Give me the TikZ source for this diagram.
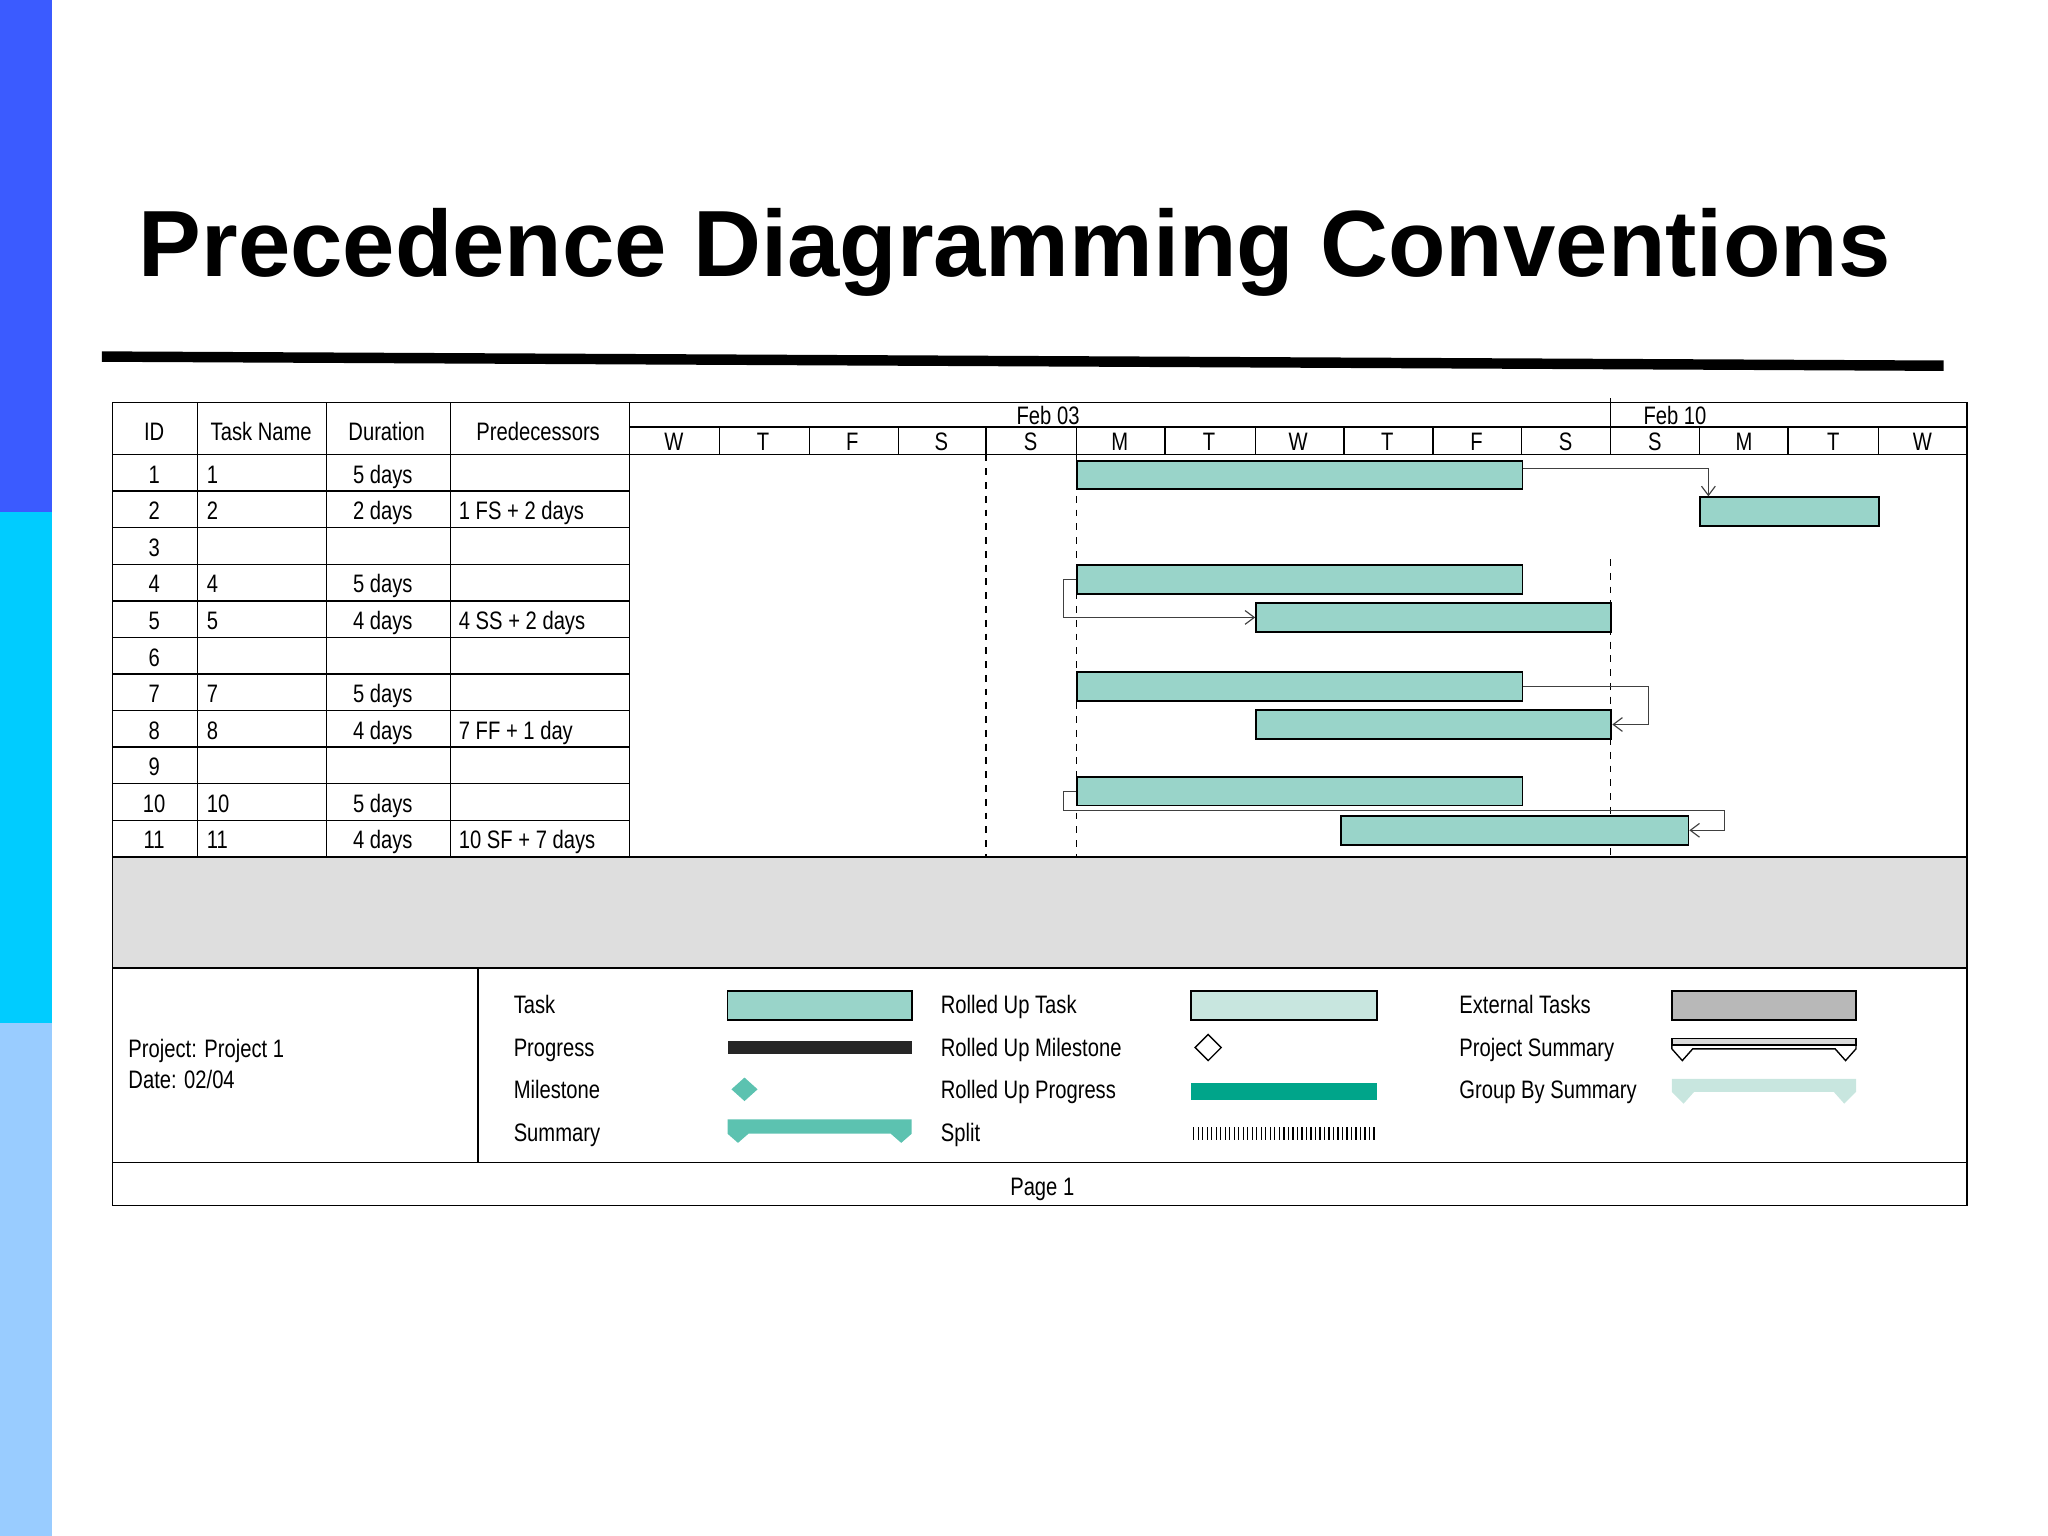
\documentclass[tikz,border=0pt]{standalone}
\usepackage{fontspec}
\setmainfont{Liberation Sans}
\newfontfamily\nar{Liberation Sans}[FakeStretch=0.8]
\usetikzlibrary{arrows.meta}
\definecolor{taskc}{HTML}{99D4C9}
\definecolor{rollc}{HTML}{C8E6DF}
\definecolor{sumc}{HTML}{5CC2B0}
\definecolor{rpc}{HTML}{00A58A}
\definecolor{extc}{HTML}{B8B8B8}
\definecolor{bandc}{HTML}{DEDEDE}
\definecolor{barA}{HTML}{3B5BFF}
\definecolor{barB}{HTML}{00CCFF}
\definecolor{barC}{HTML}{99CCFF}
\newcommand\U{0.02cm}
\tikzset{
 txt/.style={font=\nar\fontsize{11}{12}\selectfont, inner sep=0pt, anchor=base west},
 ctxt/.style={font=\nar\fontsize{11}{12}\selectfont, inner sep=0pt, anchor=base},
 bar/.style={draw, line width=0.8pt, fill=taskc, inner sep=0pt, minimum height=22*\U, anchor=north west},
 link/.style={draw=black!75, line width=0.5pt, -{Straight Barb[length=4pt,width=6pt]}},
 grid/.style={line width=0.6pt},
}
\begin{document}
\begin{tikzpicture}[x=\U, y=-\U]
\useasboundingbox (0,0) rectangle (1568,1176);
\fill[barA] (0,0) rectangle (40,392);
\fill[barB] (0,392) rectangle (40,783);
\fill[barC] (0,783) rectangle (40,1176);
\node[font=\bfseries\fontsize{41}{44}\selectfont, anchor=base west, inner sep=0pt] (title) at (106,212) {Precedence Diagramming Conventions};
\fill (78,269) -- (1488,276) -- (1488,284) -- (78,277) -- cycle;
% gray band
\fill[bandc] (86,656) rectangle (1506,741);
% table grid
\draw[grid] (86,308) rectangle (1506,923);
\draw[grid] (482,327) -- (1506,327);
\draw[grid] (86,348) -- (1506,348);
\foreach \y in {376,404,...,628} \draw[grid] (86,\y) -- (482,\y);
\draw[grid] (86,656) -- (1506,656);
\draw[grid] (86,741) -- (1506,741);
\draw[grid] (86,890) -- (1506,890);
\draw[grid] (366,741) -- (366,890);
\foreach \x in {151,250,345,482} \draw[grid] (\x,308) -- (\x,656);
\foreach \x in {551,620,688,755,824,892,961,1029,1097,1165,1233,1301,1369,1438} \draw[grid] (\x,327) -- (\x,348);
\draw[grid] (1233,305) -- (1233,327);
\draw[dashed, line width=0.6pt] (755,348) -- (755,656);
\draw[dashed, line width=0.6pt] (824,348) -- (824,656);
\draw[dashed, line width=0.6pt] (1233,428) -- (1233,656);
% header text
\node[ctxt] (hID) at (118,337) {ID};
\node[ctxt] (hTN) at (200,337) {Task Name};
\node[ctxt] (hDu) at (296,337) {Duration};
\node[ctxt] (hPr) at (412,337) {Predecessors};
\node[txt] (feb3) at (778,325) {Feb 03};
\node[txt] (feb10) at (1258,325) {Feb 10};
\foreach \d [count=\i from 0] in {W,T,F,S,S,M,T,W,T,F,S,S,M,T,W}
  \node[ctxt] (day\i) at ({482+68.27*\i+34},345) {\d};
% rows
\foreach \id/\nm/\du/\pr [count=\r from 0] in {1/1/5 days/,2/2/2 days/1 FS + 2 days,3///,4/4/5 days/,5/5/4 days/4 SS + 2 days,6///,7/7/5 days/,8/8/4 days/7 FF + 1 day,9///,10/10/5 days/,11/11/4 days/10 SF + 7 days}{
  \node[ctxt] (id\r) at (118,{370+28*\r}) {\id};
  \node[txt] (nm\r) at (158,{370+28*\r}) {\nm};
  \node[txt] (du\r) at (270,{370+28*\r}) {\du};
  \node[txt] (pr\r) at (351,{370+28*\r}) {\pr};
}
% bars
\node[bar, minimum width=341*\U] (b1) at (824,352) {};
\node[bar, minimum width=137*\U] (b2) at (1301,380) {};
\node[bar, minimum width=341*\U] (b4) at (824,432) {};
\node[bar, minimum width=272*\U] (b5) at (961,461) {};
\node[bar, minimum width=341*\U] (b7) at (824,514) {};
\node[bar, minimum width=272*\U] (b8) at (961,543) {};
\node[bar, minimum width=341*\U] (b10) at (824,594) {};
\node[bar, minimum width=266*\U] (b11) at (1026,624) {};
% links
\draw[link] ([yshift=5*\U]b1.east) -| ([xshift=7*\U]b2.north west);
\draw[link] (b4.west) -- ++(-10,0) |- (b5.west);
\draw[link] (b7.east) -- ++(96,0) |- (b8.east);
\draw[link] (b10.west) -- ++(-10,0) -- ++(0,15) -- ++(506,0) |- (b11.east);
% footer
\node[txt] (proj) at (98,810) {Project: Project 1};
\node[txt] (date) at (98,833) {Date: 02/04};
\node[ctxt] (page) at (798,915) {Page 1};
% legend labels
\node[txt] (lTask) at (393,776) {Task};
\node[txt] (lProg) at (393,809) {Progress};
\node[txt] (lMile) at (393,841) {Milestone};
\node[txt] (lSum) at (393,874) {Summary};
\node[txt] (lRT) at (720,776) {Rolled Up Task};
\node[txt] (lRM) at (720,809) {Rolled Up Milestone};
\node[txt] (lRP) at (720,841) {Rolled Up Progress};
\node[txt] (lSp) at (720,874) {Split};
\node[txt] (lET) at (1117,776) {External Tasks};
\node[txt] (lPS) at (1117,809) {Project Summary};
\node[txt] (lGS) at (1117,841) {Group By Summary};
% legend symbols
\draw[line width=0.8pt, fill=taskc] (557,759) rectangle (698,781);
\fill[black!85] (557,797) rectangle (698,807);
\fill[sumc] (570,825) -- (580,834) -- (570,843) -- (560,834) -- cycle;
\fill[sumc] (557,857) -- (698,857) -- (698,868) -- (690,875) -- (682,868) -- (573,868) -- (565,875) -- (557,868) -- cycle;
\draw[line width=0.8pt, fill=rollc] (912,759) rectangle (1054,781);
\draw[line width=0.6pt] (925,792) -- (935,802) -- (925,812) -- (915,802) -- cycle;
\fill[rpc] (912,829) rectangle (1054,842);
\foreach \k in {0,...,40} \draw[line width=0.5pt] ({914+3.45*\k},863) -- ({914+3.45*\k},873);
\draw[line width=0.8pt, fill=extc] (1280,759) rectangle (1421,781);
\draw[line width=0.6pt, fill=black!15] (1280,795) rectangle (1421,800);
\draw[line width=0.6pt] (1280,800) -- (1280,803) -- (1288,812) -- (1296,803) -- (1405,803) -- (1413,812) -- (1421,803) -- (1421,800);
\fill[rollc] (1280,826) -- (1421,826) -- (1421,836) -- (1412,845) -- (1404,836) -- (1297,836) -- (1289,845) -- (1280,836) -- cycle;
\end{tikzpicture}
\end{document}
